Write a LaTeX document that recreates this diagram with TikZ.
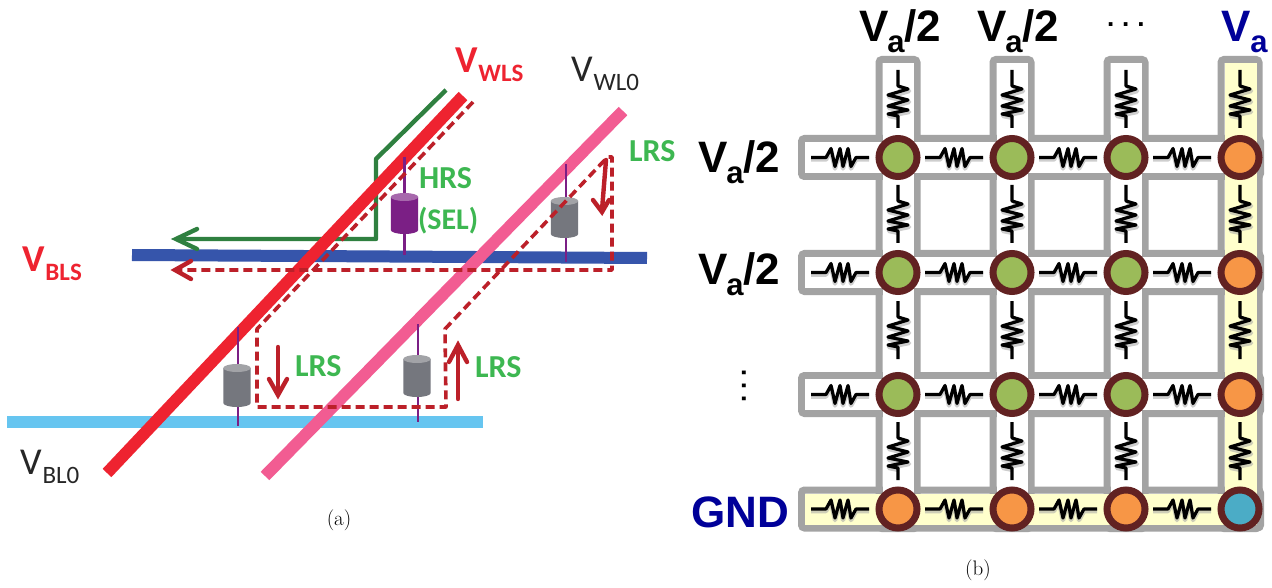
\documentclass[tikz,border=0pt]{standalone}
\usepackage{fontspec}
\newfontfamily\carl{Carlito}
\newfontfamily\hel{Liberation Sans}
\definecolor{cRed}{HTML}{EE2330}
\definecolor{cPink}{HTML}{F25C92}
\definecolor{cBlue}{HTML}{3655AB}
\definecolor{cSky}{HTML}{66C5F0}
\definecolor{cGreen}{HTML}{2F8040}
\definecolor{cDash}{HTML}{BC2029}
\definecolor{cLab}{HTML}{3DB751}
\definecolor{cPur}{HTML}{7B1F85}
\definecolor{cPurT}{HTML}{A768AC}
\definecolor{cGray}{HTML}{75777E}
\definecolor{cGrayT}{HTML}{A2A3A7}
\definecolor{cFrame}{HTML}{A3A3A3}
\definecolor{cYel}{HTML}{FFFFCC}
\definecolor{cRing}{HTML}{622222}
\definecolor{cN}{HTML}{9BBB59}
\definecolor{cO}{HTML}{F79646}
\definecolor{cT}{HTML}{4BACC6}
\definecolor{cNavy}{HTML}{000099}
\tikzset{
  x=1pt,y=-1pt,
  wire/.style={line width=12pt},
  stub/.style={cPur,line width=2.4pt},
  pathg/.style={cGreen,line width=4.4pt,line join=round},
  pathd/.style={cDash,line width=3.6pt,dash pattern=on 9pt off 5pt,line join=round},
  barb/.style={line width=4.4pt,line cap=round,line join=miter},
  txt/.style={inner sep=0pt,outer sep=0pt,anchor=base west},
  frm/.style={cFrame,line width=7pt,rounded corners=3pt},
  node circ/.style={circle,draw=cRing,line width=7pt,minimum size=38pt,inner sep=0pt},
  res/.style={black,line width=3.2pt,line join=round},
  resshade/.style={black!35,opacity=.55,line width=4.5pt,line join=round}
}
\newcommand{\cyl}[5]{%
  \fill[#4] (#1-13.7,#2+4) -- (#1-13.7,#3-4) arc[start angle=180,end angle=360,x radius=13.7,y radius=-4] -- (#1+13.7,#2+4) -- cycle;
  \fill[#5] (#1,#2+4) ellipse[x radius=13.7,y radius=4];
}
\newcommand{\resv}[2]{%
  \begin{scope}[shift={(#1,#2)}]
  \draw[resshade] (1,-11) -- (11,-8) -- (-9,-2) -- (11,3) -- (-9,9) -- (11,13) -- (-9,17) -- (1,19);
  \draw[res] (0,-29) -- (0,-13) -- (10,-10) -- (-10,-4) -- (10,1) -- (-10,7) -- (10,11) -- (-10,15) -- (0,17) -- (0,29);
  \end{scope}}
\newcommand{\resh}[2]{%
  \begin{scope}[shift={(#1,#2)}]
  \draw[resshade] (-29,2) -- (-14,2) -- (-9,-7) -- (-5,11) -- (0,-7) -- (3,11) -- (8,-7) -- (11,11) -- (16,2) -- (29,2);
  \draw[res] (-29,0) -- (-14,0) -- (-9,-9) -- (-5,9) -- (0,-9) -- (3,9) -- (8,-9) -- (11,9) -- (16,0) -- (29,0);
  \end{scope}}
\newcommand{\Vsub}[1]{{\fontsize{38}{38}\selectfont V}\kern1pt\raisebox{-9pt}{\fontsize{25}{25}\selectfont #1}}
\newcommand{\Vtwo}{{\hel\bfseries\fontsize{44}{44}\selectfont V\kern-1pt\raisebox{-11pt}{\fontsize{31}{31}\selectfont a}/2}}
\begin{document}
\begin{tikzpicture}
\useasboundingbox (0,0) rectangle (1272,588);
\fill[white] (0,0) rectangle (1272,588);
% --- panel (a)
\coordinate (rA) at (107,473); \coordinate (rB) at (463,96);
\coordinate (pA) at (265,476); \coordinate (pB) at (623,111);
\coordinate (bA) at (132,255); \coordinate (bB) at (647,258);
\coordinate (sA) at (7,422); \coordinate (sB) at (483,422);
\draw[wire,cBlue] (bA) -- (bB);
\draw[wire,cSky] (sA) -- (sB);
\draw[pathg] (446,90) -- (376,159) -- (376,239) -- (178,239);
\draw[barb,cGreen] (197,229) -- (176,239) -- (197,249);
\draw[stub] (404.5,157) -- (404.5,255);
\draw[stub] (566,164) -- (566,262);
\draw[stub] (238,327) -- (238,426);
\draw[stub] (418,324) -- (418,422);
\draw[wire,cRed] (rA) -- (rB);
\draw[wire,cPink] (pA) -- (pB);
\draw[stub] (404.5,157) -- (404.5,195);
\draw[stub] (566,196) -- (566,164);
\draw[stub] (238,327) -- (238,366);
\draw[stub] (418,324) -- (418,358);
\cyl{404.5}{193}{234}{cPur}{cPurT}
\cyl{564.5}{197}{238}{cGray}{cGrayT}
\cyl{237}{364}{407}{cGray}{cGrayT}
\cyl{417}{355}{397}{cGray}{cGrayT}
\draw[pathd] (473,102) -- (257,329) -- (257,407) -- (446,407) -- (445,329) -- (600,165) -- (608,157) -- (612,157) -- (612,270) -- (178,270);
\draw[barb,cDash] (191,261) -- (175,270) -- (191,279);
\draw[barb,cDash] (606,160) -- (602,210);
\draw[barb,cDash] (593,200) -- (602,212) -- (609,200);
\draw[barb,cDash] (278,347) -- (278,393);
\draw[barb,cDash] (269,379) -- (278,395) -- (287,379);
\draw[barb,cDash] (458,399) -- (458,347);
\draw[barb,cDash] (449,362) -- (458,345) -- (467,362);
\node[txt,text=cRed,font=\carl\bfseries] (lWLS) at (455,73) {\Vsub{WLS}};
\node[txt,text=black!85,font=\carl] (lWL0) at (571,82) {\Vsub{WL0}};
\node[txt,text=cRed,font=\carl\bfseries] (lBLS) at (22,272) {\Vsub{BLS}};
\node[txt,text=black!85,font=\carl] (lBL0) at (20,474) {\Vsub{BL0}};
\node[txt,text=cLab,font=\carl\bfseries\fontsize{32}{32}\selectfont] (l1) at (629,162) {LRS};
\node[txt,text=cLab,font=\carl\bfseries\fontsize{32}{32}\selectfont] (l2) at (295,376) {LRS};
\node[txt,text=cLab,font=\carl\bfseries\fontsize{32}{32}\selectfont] (l3) at (475,377) {LRS};
\node[txt,text=cLab,font=\carl\bfseries\fontsize{32}{32}\selectfont] (l4) at (419,189) {HRS};
\node[txt,text=cLab,font=\carl\bfseries\fontsize{30}{30}\selectfont] (l5) at (418,230) {(SEL)};
\node[font=\fontsize{21}{21}\selectfont] (capa) at (339,520) {(a)};
\node[font=\fontsize{21}{21}\selectfont] (capb) at (978,570) {(b)};
% --- panel (b)
\def\cols{898,1012,1126,1240}
\def\rows{157.5,272.5,394.5,509}
\foreach \c in \cols {\draw[frm] (\c-19,59.5) rectangle (\c+19,528.5);}
\foreach \r in \rows {\draw[frm] (801.5,\r-19) rectangle (1260.5,\r+19);}
\foreach \c in \cols {\fill[white] (\c-15.5,63) rectangle (\c+15.5,525);}
\foreach \r in \rows {\fill[white] (805,\r-15.5) rectangle (1257,\r+15.5);}
\fill[cYel] (1224.5,63) rectangle (1257,525);
\fill[cYel] (805,493.5) rectangle (1257,525);
\foreach \c in \cols {\foreach \y in {99,214,330,451} {\resv{\c}{\y}}}
\foreach \r in \rows {\foreach \x in {840,954,1068,1182} {\resh{\x}{\r}}}
\foreach \c/\cn in {898/A,1012/B,1126/C} {
  \foreach \r/\rn in {157.5/a,272.5/b,394.5/c} {\node[node circ,fill=cN] (n\cn\rn) at (\c,\r) {};}
  \node[node circ,fill=cO] (n\cn d) at (\c,509) {};
}
\foreach \r/\rn in {157.5/a,272.5/b,394.5/c} {\node[node circ,fill=cO] (nD\rn) at (1240,\r) {};}
\node[node circ,fill=cT] (nDd) at (1240,509) {};
\node[txt] (t1) at (859,42) {\Vtwo};
\node[txt] (t2) at (977,42) {\Vtwo};
\node[txt,font=\hel\bfseries\fontsize{26}{26}\selectfont] (t3) at (1107,27) {.\kern8pt.\kern8pt.};
\node[txt,text=cNavy,font=\hel\bfseries] (t4) at (1221,42) {{\fontsize{44}{44}\selectfont V}\raisebox{-11pt}{\fontsize{31}{31}\selectfont a}};
\node[txt] (s1) at (698,173) {\Vtwo};
\node[txt] (s2) at (698,284) {\Vtwo};
\node[font=\hel\bfseries\fontsize{26}{26}\selectfont,rotate=90,inner sep=0pt] (s3) at (744,386) {.\kern6pt.\kern6pt.};
\node[txt,text=cNavy,font=\hel\bfseries\fontsize{44}{44}\selectfont] (s4) at (691,527) {GND};
\end{tikzpicture}
\end{document}
